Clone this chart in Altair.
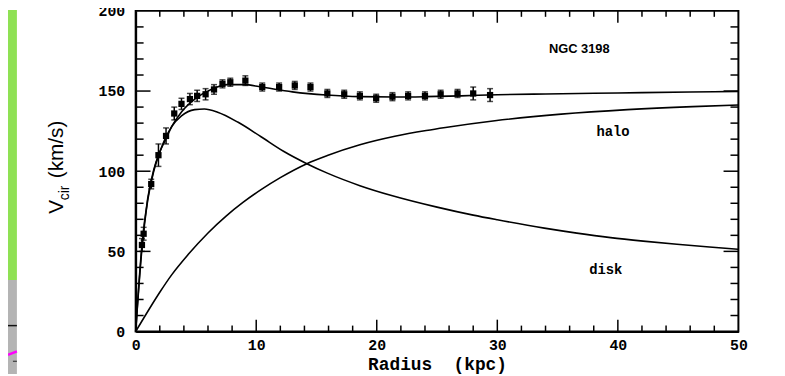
import altair as alt
import pandas as pd

# ---- observed rotation curve (NGC 3198) ----
obs_r = [0.52, 0.66, 1.29, 1.89, 2.52, 3.2, 3.8, 4.5, 5.1, 5.8, 6.5, 7.2, 7.85, 9.1,
         10.5, 11.9, 13.2, 14.5, 15.9, 17.3, 18.6, 19.95, 21.3, 22.6, 24.0, 25.3,
         26.7, 28.0, 29.4]
obs_v = [54, 61, 92, 110, 122, 136, 142, 145, 147, 148, 151, 154.5, 155.5, 156.5,
         152.5, 152.5, 153.5, 152.5, 148.5, 148, 147, 145.5, 146.5, 147, 147, 148,
         148.5, 148.5, 147.5]
obs_err = [4, 4, 3, 7, 5, 4, 3.5, 3.5, 3.5, 3.5, 3, 2.5, 2.5, 3,
           2.5, 2.5, 2.5, 2.5, 2.5, 2.5, 2.5, 2.5, 2.5, 2.5, 2.5, 2.5,
           2.5, 4, 4]

# ---- model curves ----
total_r = [0, 0.5, 1, 1.5, 2, 2.5, 3, 3.8, 4.9, 6.26, 7.6, 9, 10.4, 13, 15.8, 18.6,
           21.5, 24, 27, 30, 34, 38, 42, 46, 50]
total_v = [0, 52, 83, 101, 112, 120, 128, 137, 145, 151, 154, 154, 152.5, 149.5,
           147.5, 146.5, 146.3, 146.5, 147, 147.7, 148.2, 148.6, 149, 149.4, 149.8]

disk_r = [0, 0.5, 1, 1.5, 2, 3, 3.8, 4.9, 5.7, 6.8, 8.5, 10.4, 12.3, 14.2, 15.9,
          18.6, 21.3, 25, 28, 30, 33.9, 36.6, 39.4, 42.1, 44.9, 47.6, 50]
disk_v = [0, 50, 82, 100, 112, 128, 134.5, 138.4, 138.8, 136.8, 130.5, 121.5,
          112.3, 104.7, 98.8, 91, 84.7, 77.6, 72.6, 69.7, 64.5, 61.4, 58.6, 56.4,
          54.4, 52.7, 51.3]

halo_r = [0, 1, 2, 3, 4.35, 6, 7.5, 8.9, 10.4, 12, 14.2, 15.9, 18.6, 21.5, 24.1,
          25.7, 29.8, 35.3, 40.8, 46.2, 50]
halo_v = [0, 12.5, 24.5, 35.5, 48, 61.5, 72, 80.5, 88.5, 96, 104.7, 109.8, 116.5,
          121.8, 125.4, 127.3, 131.5, 135.6, 138.4, 140.3, 141.3]

# ---- axis ticks ----
x_labels = [0, 10, 20, 30, 40, 50]
y_labels = [0, 50, 100, 150, 200]
x_minor = [2, 4, 6, 8, 12, 14, 16, 18, 22, 24, 26, 28, 32, 34, 36, 38, 42, 44, 46, 48]
x_major = [10, 20, 30, 40]
y_minor = [10, 20, 30, 40, 60, 70, 80, 90, 110, 120, 130, 140, 160, 170, 180, 190]
y_major = [50, 100, 150]

# ---- annotations ----
name_text = ["NGC 3198"]
name_r = [36.8]
name_v = [176]
comp_text = ["halo", "disk"]
comp_r = [39.6, 39.0]
comp_v = [124.5, 38.5]

W, H = 609, 324
XS = alt.Scale(domain=[0, 50], nice=False, zero=False)
YS = alt.Scale(domain=[0, 200], nice=False, zero=False)

obs = pd.DataFrame({"r": obs_r, "v": obs_v, "err": obs_err})
obs["lo"] = obs["v"] - obs["err"]
obs["hi"] = obs["v"] + obs["err"]

curves = pd.concat([
    pd.DataFrame({"r": total_r, "v": total_v, "comp": "total"}),
    pd.DataFrame({"r": disk_r, "v": disk_v, "comp": "disk"}),
    pd.DataFrame({"r": halo_r, "v": halo_v, "comp": "halo"}),
])
one = pd.DataFrame({"k": [0]})

xaxis = alt.Axis(values=x_labels, ticks=False, grid=False, title=None,
                 labelPadding=6, domainWidth=2, domainColor="black",
                 labelFont="Liberation Mono", labelFontSize=15,
                 labelFontWeight="bold", labelColor="black",
                 labelFlush=False, labelOverlap=False)
yaxis = alt.Axis(values=y_labels, ticks=False, grid=False, title=None,
                 labelPadding=11, domainWidth=2, domainColor="black",
                 labelFont="Liberation Mono", labelFontSize=15,
                 labelFontWeight="bold", labelColor="black",
                 labelFlush=False, labelOverlap=False)

# decorations of the scanned slide (left strip)
green = alt.Chart(one).mark_rect(color="#8fe154").encode(
    x=alt.value(-129), x2=alt.value(-120), y=alt.value(-1), y2=alt.value(272))
gray = alt.Chart(one).mark_rect(color="#b4b4b4").encode(
    x=alt.value(-129), x2=alt.value(-120), y=alt.value(272), y2=alt.value(367))
blk = alt.Chart(one).mark_rule(color="#111111", strokeWidth=1.5).encode(
    x=alt.value(-129), x2=alt.value(-120), y=alt.value(318), y2=alt.value(318))
mag = alt.Chart(one).mark_rule(color="#ff00ff", strokeWidth=2.5).encode(
    x=alt.value(-129), x2=alt.value(-120), y=alt.value(347.5), y2=alt.value(344))
dash = alt.Chart(one).mark_rule(color="#222222", strokeWidth=1).encode(
    x=alt.value(-124), x2=alt.value(-120), y=alt.value(354), y2=alt.value(354))

lines = alt.Chart(curves).mark_line(color="black", strokeWidth=1.6,
                                    interpolate="monotone").encode(
    x=alt.X("r:Q", scale=XS, axis=xaxis),
    y=alt.Y("v:Q", scale=YS, axis=yaxis),
    detail="comp:N")

ebar = alt.Chart(obs).mark_rule(color="black", strokeWidth=1.5).encode(
    x=alt.X("r:Q", scale=XS), y=alt.Y("lo:Q", scale=YS), y2="hi:Q")
cap_lo = alt.Chart(obs).mark_tick(color="black", orient="horizontal",
                                  size=6, thickness=1.5).encode(
    x=alt.X("r:Q", scale=XS), y=alt.Y("lo:Q", scale=YS))
cap_hi = alt.Chart(obs).mark_tick(color="black", orient="horizontal",
                                  size=6, thickness=1.5).encode(
    x=alt.X("r:Q", scale=XS), y=alt.Y("hi:Q", scale=YS))
pts = alt.Chart(obs).mark_square(color="black", size=40, opacity=1,
                                 filled=True).encode(
    x=alt.X("r:Q", scale=XS), y=alt.Y("v:Q", scale=YS))

# inward ticks
def xt(vals, y0, y1):
    return alt.Chart(pd.DataFrame({"t": vals})).mark_rule(
        color="black", strokeWidth=1.5).encode(
        x=alt.X("t:Q", scale=XS), y=alt.value(y0), y2=alt.value(y1))

def yt(vals, x0, x1):
    return alt.Chart(pd.DataFrame({"t": vals})).mark_rule(
        color="black", strokeWidth=1.5).encode(
        y=alt.Y("t:Q", scale=YS), x=alt.value(x0), x2=alt.value(x1))

ticks = [
    xt(x_minor, H, H - 6), xt(x_major, H, H - 12),
    xt(x_minor, 0, 6), xt(x_major, 0, 12),
    yt(y_minor, 0, 8), yt(y_major, 0, 15),
    yt(y_minor, W, W - 8), yt(y_major, W, W - 15),
]

ann_name = alt.Chart(pd.DataFrame({"t": name_text, "r": name_r, "v": name_v})).mark_text(
    font="Liberation Sans", fontSize=13, fontWeight="bold", color="black").encode(
    x=alt.X("r:Q", scale=XS), y=alt.Y("v:Q", scale=YS), text="t:N")
ann_comp = alt.Chart(pd.DataFrame({"t": comp_text, "r": comp_r, "v": comp_v})).mark_text(
    font="Liberation Mono", fontSize=14, fontWeight="bold", color="black").encode(
    x=alt.X("r:Q", scale=XS), y=alt.Y("v:Q", scale=YS), text="t:N")

xtitle = alt.Chart(one).mark_text(text="Radius\u00a0\u00a0(kpc)",
                                  font="Liberation Mono",
                                  fontSize=18, fontWeight="bold",
                                  color="black").encode(
    x=alt.value(305), y=alt.value(357.5))

yt_v = alt.Chart(one).mark_text(text="V", font="Liberation Sans", fontSize=21,
                                angle=270, color="black").encode(
    x=alt.value(-79), y=alt.value(198))
yt_c = alt.Chart(one).mark_text(text="cir", font="Liberation Sans", fontSize=14,
                                angle=270, color="black").encode(
    x=alt.value(-71), y=alt.value(184))
yt_u = alt.Chart(one).mark_text(text="(km/s)", font="Liberation Sans",
                                fontSize=21, angle=270, color="black").encode(
    x=alt.value(-79), y=alt.value(140))

chart = alt.layer(
    green, gray, blk, mag, dash,
    lines, ebar, cap_lo, cap_hi, pts, *ticks, ann_name, ann_comp, xtitle,
    yt_v, yt_c, yt_u
).properties(
    width=W, height=H,
    autosize=alt.AutoSizeParams(type="none"),
    padding={"left": 129, "top": 1, "right": 39, "bottom": 43},
    background="white",
).configure_view(stroke="black", strokeWidth=2)

chart.save("out.html", embed_options={"renderer": "svg", "actions": False})
